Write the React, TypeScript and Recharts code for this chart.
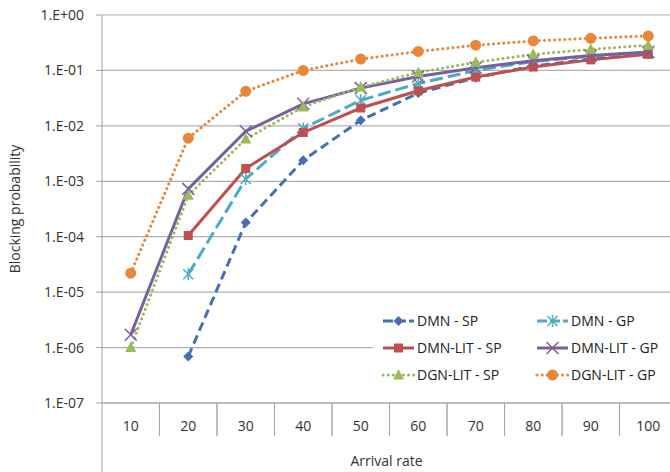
import React from "react";
import { LineChart, Line, XAxis, YAxis, CartesianGrid } from "recharts";

// arrival rate categories
const rates = [10, 20, 30, 40, 50, 60, 70, 80, 90, 100];

// blocking probability per series (null = no point)
const dmnSp = [null, 6.9e-7, 1.8e-4, 2.4e-3, 1.26e-2, 3.9e-2, 7.4e-2, 1.2e-1, 1.6e-1, 2.0e-1];
const dmnGp = [null, 2.1e-5, 1.1e-3, 9.0e-3, 2.9e-2, 5.8e-2, 1.0e-1, 1.45e-1, 1.8e-1, 2.05e-1];
const dmnLitSp = [null, 1.05e-4, 1.7e-3, 7.6e-3, 2.1e-2, 4.3e-2, 7.6e-2, 1.15e-1, 1.55e-1, 1.95e-1];
const dmnLitGp = [1.7e-6, 7.3e-4, 8.0e-3, 2.5e-2, 4.8e-2, 7.8e-2, 1.12e-1, 1.5e-1, 1.85e-1, 2.15e-1];
const dgnLitSp = [1.0e-6, 5.6e-4, 5.8e-3, 2.2e-2, 5.0e-2, 9.2e-2, 1.4e-1, 1.95e-1, 2.4e-1, 2.85e-1];
const dgnLitGp = [2.2e-5, 6.0e-3, 4.2e-2, 1.0e-1, 1.6e-1, 2.2e-1, 2.85e-1, 3.4e-1, 3.8e-1, 4.2e-1];

const yTicks = [1e-7, 1e-6, 1e-5, 1e-4, 1e-3, 1e-2, 1e-1, 1];

const series = [
  { key: "dmnSp", name: "DMN - SP", values: dmnSp, color: "#4470B4", dash: "9 5", marker: "diamond" },
  { key: "dmnGp", name: "DMN - GP", values: dmnGp, color: "#4BACC6", dash: "13 5", marker: "asterisk" },
  { key: "dmnLitSp", name: "DMN-LIT - SP", values: dmnLitSp, color: "#C0504D", dash: undefined, marker: "square" },
  { key: "dmnLitGp", name: "DMN-LIT - GP", values: dmnLitGp, color: "#7B5EA0", dash: undefined, marker: "x" },
  { key: "dgnLitSp", name: "DGN-LIT - SP", values: dgnLitSp, color: "#9BBB59", dash: "0.1 5", marker: "triangle" },
  { key: "dgnLitGp", name: "DGN-LIT - GP", values: dgnLitGp, color: "#E8863A", dash: "0.1 5", marker: "circle" },
];

const data = rates.map((rate, i) => {
  const row: Record<string, number | null> = { rate };
  series.forEach(s => {
    row[s.key] = s.values[i];
  });
  return row;
});

const FONT = "'Open Sans', sans-serif";
const PLOT_BOTTOM = 403;
const HALF_BAND = 28.75;

function Marker({ type, x, y, color }: { type: string; x: number; y: number; color: string }) {
  switch (type) {
    case "diamond":
      return <polygon points={`${x},${y - 5} ${x + 5},${y} ${x},${y + 5} ${x - 5},${y}`} fill={color} />;
    case "asterisk":
      return (
        <g stroke={color} strokeWidth={1.5}>
          <line x1={x - 5} y1={y - 5} x2={x + 5} y2={y + 5} />
          <line x1={x - 5} y1={y + 5} x2={x + 5} y2={y - 5} />
          <line x1={x} y1={y - 6} x2={x} y2={y + 6} />
        </g>
      );
    case "square":
      return <rect x={x - 4.5} y={y - 4.5} width={9} height={9} fill={color} />;
    case "x":
      return (
        <g stroke={color} strokeWidth={1.5}>
          <line x1={x - 6} y1={y - 6} x2={x + 6} y2={y + 6} />
          <line x1={x - 6} y1={y + 6} x2={x + 6} y2={y - 6} />
        </g>
      );
    case "triangle":
      return <polygon points={`${x},${y - 6} ${x + 5.5},${y + 4.5} ${x - 5.5},${y + 4.5}`} fill={color} />;
    default:
      return <circle cx={x} cy={y} r={5.5} fill={color} />;
  }
}

const yFormat = (v: number) => {
  const exp = Math.round(Math.log10(v));
  return `1.E${exp >= 0 ? "+" : "-"}${String(Math.abs(exp)).padStart(2, "0")}`;
};

const XTick = (props: any) => {
  const { x, payload, index } = props;
  return (
    <g>
      <line x1={x - HALF_BAND} y1={PLOT_BOTTOM} x2={x - HALF_BAND} y2={index === 0 ? 472 : 436} stroke="#A6A6A6" />
      <line x1={x + HALF_BAND} y1={PLOT_BOTTOM} x2={x + HALF_BAND} y2={436} stroke="#A6A6A6" />
      <text x={x} y={431} textAnchor="middle" fontFamily={FONT} fontSize={14} fill="#333">
        {payload.value}
      </text>
    </g>
  );
};

const LegendBox = () => (
  <svg width={300} height={88} style={{ display: "block" }}>
    {series.map((s, i) => {
      const col = i % 2;
      const row = Math.floor(i / 2);
      const x0 = col === 0 ? 10 : 164;
      const y = 16 + row * 27;
      const dotted = s.dash === "0.1 5";
      return (
        <g key={s.key}>
          <line
            x1={x0}
            y1={y}
            x2={x0 + 31}
            y2={y}
            stroke={s.color}
            strokeWidth={3}
            strokeDasharray={s.dash ? (dotted ? "0.1 5" : "10 3") : undefined}
            strokeLinecap={dotted ? "round" : "butt"}
          />
          <Marker type={s.marker} x={x0 + 15.5} y={y} color={s.color} />
          <text x={x0 + 34} y={y + 5} fontFamily={FONT} fontSize={14} fill="#222">
            {s.name}
          </text>
        </g>
      );
    })}
  </svg>
);

export default function App() {
  return (
    <div style={{ position: "absolute", left: 0, top: 0, width: 670, height: 472, overflow: "hidden", background: "#fff" }}>
      <LineChart width={680} height={472} data={data} margin={{ top: 15, right: 3, bottom: 0, left: 0 }}>
        <CartesianGrid vertical={false} stroke="#B0B0B0" strokeWidth={1.2} />
        <XAxis
          dataKey="rate"
          height={69}
          padding={{ left: HALF_BAND, right: HALF_BAND }}
          axisLine={{ stroke: "#A6A6A6" }}
          tickLine={false}
          tick={<XTick />}
          interval={0}
          label={{ value: "Arrival rate", position: "insideBottom", offset: 6, dx: -3, fontFamily: FONT, fontSize: 14, fill: "#333" }}
        />
        <YAxis
          scale="log"
          domain={[1e-7, 1]}
          ticks={yTicks}
          allowDataOverflow
          width={102}
          tickFormatter={yFormat}
          axisLine={{ stroke: "#A6A6A6" }}
          tickLine={{ stroke: "#A6A6A6" }}
          tickSize={6}
          tickMargin={12}
          tick={{ fontFamily: FONT, fontSize: 14, fill: "#333" }}
          label={{ value: "Blocking probability", angle: -90, position: "insideLeft", offset: 15, fontFamily: FONT, fontSize: 14, fill: "#333", style: { textAnchor: "middle" } }}
        />
        {series.map(s => (
          <Line
            key={s.key}
            dataKey={s.key}
            name={s.name}
            stroke={s.color}
            strokeWidth={3}
            strokeDasharray={s.dash}
            strokeLinecap={s.dash === "0.1 5" ? "round" : "butt"}
            isAnimationActive={false}
            activeDot={false}
            dot={(p: any) =>
              p.cy == null || p.value == null ? (
                <g key={`${s.key}-${p.index}`} />
              ) : (
                <g key={`${s.key}-${p.index}`}>
                  <Marker type={s.marker} x={p.cx} y={p.cy} color={s.color} />
                </g>
              )
            }
          />
        ))}
      </LineChart>
      <div style={{ position: "absolute", left: 373, top: 305, width: 300, height: 88, background: "#fff" }}>
        <LegendBox />
      </div>
    </div>
  );
}
